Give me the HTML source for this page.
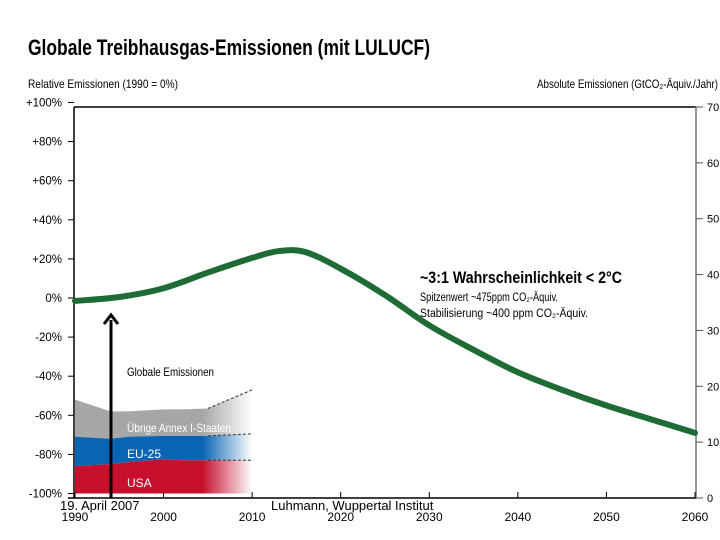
<!DOCTYPE html>
<html><head><meta charset="utf-8"><style>
body{margin:0;background:#fff;}
svg{display:block;font-family:"Liberation Sans Narrow","Liberation Sans",sans-serif;}
</style></head><body>
<svg id="chart" width="720" height="540" viewBox="0 0 720 540">
<defs>
<linearGradient id="fadeRed" x1="0" x2="1"><stop offset="0.72" stop-color="#c8102e"/><stop offset="1" stop-color="#fff"/></linearGradient>
<linearGradient id="fadeBlue" x1="0" x2="1"><stop offset="0.72" stop-color="#0a64b4"/><stop offset="1" stop-color="#fff"/></linearGradient>
<linearGradient id="fadeGray" x1="0" x2="1"><stop offset="0.72" stop-color="#a6a6a6"/><stop offset="1" stop-color="#fff"/></linearGradient>
</defs>
<text x="28" y="55" font-size="22" font-weight="bold" textLength="402" lengthAdjust="spacingAndGlyphs">Globale Treibhausgas-Emissionen (mit LULUCF)</text>
<text x="28" y="88" font-size="12" textLength="150" lengthAdjust="spacingAndGlyphs">Relative Emissionen (1990 = 0%)</text>
<text x="537" y="88" font-size="12" textLength="181" lengthAdjust="spacingAndGlyphs">Absolute Emissionen (GtCO₂-Äquiv./Jahr)</text>
<g id="areas"></g>
<g id="axes"></g>
<path id="curve" fill="none" stroke="#1e6b35" stroke-width="6" stroke-linecap="round"></path>
<g>
<line x1="111" y1="498" x2="111" y2="320" stroke="#000" stroke-width="3"/>
<polyline points="104,324 111,315 118,324" fill="none" stroke="#000" stroke-width="3"/>
</g>
<text x="127" y="376" font-size="12" textLength="87" lengthAdjust="spacingAndGlyphs">Globale Emissionen</text>
<text x="127" y="432" font-size="12" fill="#fff" textLength="104" lengthAdjust="spacingAndGlyphs">Übrige Annex I-Staaten</text>
<text x="127" y="458" font-size="12" fill="#fff">EU-25</text>
<text x="127" y="487" font-size="12" fill="#fff">USA</text>
<text x="420" y="283" font-size="17" font-weight="bold" textLength="202" lengthAdjust="spacingAndGlyphs">~3:1 Wahrscheinlichkeit &lt; 2°C</text>
<text x="420" y="301" font-size="11.5" textLength="138" lengthAdjust="spacingAndGlyphs">Spitzenwert ~475ppm CO₂-Äquiv.</text>
<text x="420" y="317" font-size="11.5" textLength="168" lengthAdjust="spacingAndGlyphs">Stabilisierung ~400 ppm CO₂-Äquiv.</text>
<text x="60" y="510" font-size="13" font-family="Liberation Sans, sans-serif">19. April 2007</text>
<text x="271" y="510" font-size="13" font-family="Liberation Sans, sans-serif">Luhmann, Wuppertal Institut</text>
</svg>
<script>
const curveYears=[1990,1995,2000,2005,2010,2013,2016,2020,2025,2030,2035,2040,2045,2050,2055,2060];
const curvePct=[-1.5,0.5,5,13,20.5,24,23.5,15,1.5,-14,-26.5,-38,-47,-55,-62,-69];
const areaYears=[1990,1994,1996,2000,2002,2005,2010];
const usaTop=[-86,-85,-84,-82.5,-83,-83,-83];
const euTop=[-71,-72,-71,-70.5,-70.5,-70.5,-69.5];
const otherTop=[-52,-58,-58,-57,-57,-56.5,-47];
const pctTicks=[100,80,60,40,20,0,-20,-40,-60,-80,-100];
const pctLabels=["+100%","+80%","+60%","+40%","+20%","0%","-20%","-40%","-60%","-80%","-100%"];
const absTicks=[70,60,50,40,30,20,10,0];
const yearTicks=[1990,2000,2010,2020,2030,2040,2050,2060];

const NS="http://www.w3.org/2000/svg";
const X=y=>75+(y-1990)*(620/70);
const Y=p=>298-p*1.955;
const YA=a=>498-a*(391/70);
function mk(tag,attrs,parent){const e=document.createElementNS(NS,tag);for(const k in attrs)e.setAttribute(k,attrs[k]);parent.appendChild(e);return e;}
const axesG=document.getElementById('axes');
const areasG=document.getElementById('areas');

function band(lo,hi,fill,name){
  let d='M'+areaYears.map((y,i)=>X(y)+','+Y(hi[i])).join(' L');
  for(let i=areaYears.length-1;i>=0;i--)d+=' L'+X(areaYears[i])+','+(lo?Y(lo[i]):Y(-100));
  const p=mk('path',{d:d+'Z',fill:fill},areasG);
  
  
}
band(euTop,otherTop,'url(#fadeGray)','area-other-annex-i');
band(usaTop,euTop,'url(#fadeBlue)','area-eu-25');
band(null,usaTop,'url(#fadeRed)','area-usa');
[otherTop,euTop,usaTop].forEach(arr=>{
  const i=areaYears.indexOf(2005);
  const l=mk('polyline',{points:areaYears.slice(i).map((y,j)=>X(y)+','+Y(arr[i+j])).join(' '),fill:'none',stroke:'#333','stroke-width':1,'stroke-dasharray':'3,2'},areasG);
  
  
});

const leftAxis=mk('line',{x1:74,y1:107,x2:74,y2:498,stroke:'#000','stroke-width':1.5},axesG);


const topLine=mk('line',{x1:74,y1:107,x2:696,y2:107,stroke:'#000','stroke-width':1.5},axesG);


const bottomAxis=mk('line',{x1:68,y1:498,x2:696,y2:498,stroke:'#000','stroke-width':1.5},axesG);


const rightAxis=mk('line',{x1:696,y1:107,x2:696,y2:498,stroke:'#777','stroke-width':1.5},axesG);



pctTicks.forEach((p,i)=>{
  mk('line',{x1:68,y1:Y(p),x2:74,y2:Y(p),stroke:'#000'},axesG);
  const t=mk('text',{x:62,y:Y(p)+4,'font-size':11.5,'text-anchor':'end'},axesG);
  t.textContent=pctLabels[i];
  
  
});
absTicks.forEach(a=>{
  mk('line',{x1:696,y1:YA(a),x2:703,y2:YA(a),stroke:'#555'},axesG);
  const t=mk('text',{x:707,y:YA(a)+4,'font-size':11},axesG);
  t.textContent=a;
  
  
});
yearTicks.forEach(y=>{
  mk('line',{x1:X(y),y1:492,x2:X(y),y2:498,stroke:'#000'},axesG);
  const t=mk('text',{x:X(y),y:521,'font-size':12,'text-anchor':'middle'},axesG);
  t.textContent=y;
  
  
});

const pts=curveYears.map((y,i)=>[X(y),Y(curvePct[i])]);
let d='M'+pts[0][0]+','+pts[0][1];
for(let i=0;i<pts.length-1;i++){
  const p0=pts[i-1]||pts[i],p1=pts[i],p2=pts[i+1],p3=pts[i+2]||p2;
  d+=' C'+(p1[0]+(p2[0]-p0[0])/6)+','+(p1[1]+(p2[1]-p0[1])/6)+' '+(p2[0]-(p3[0]-p1[0])/6)+','+(p2[1]-(p3[1]-p1[1])/6)+' '+p2[0]+','+p2[1];
}
document.getElementById('curve').setAttribute('d',d);
</script>
</body></html>
